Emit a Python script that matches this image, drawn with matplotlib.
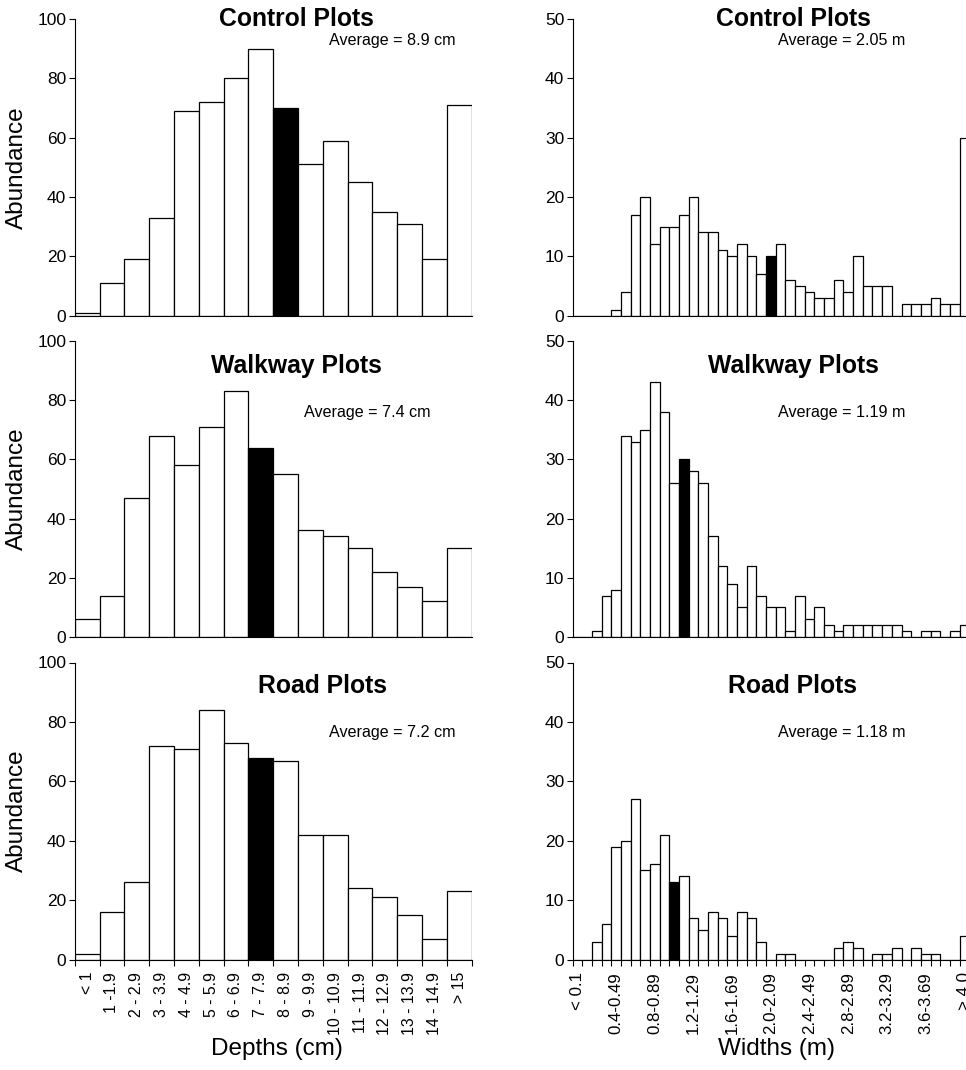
import matplotlib
matplotlib.use("Agg")
import matplotlib.pyplot as plt

plt.rcParams['font.family'] = ['Liberation Sans', 'DejaVu Sans']

# ---- data ----
depth_labels = ["< 1", "1 -1.9", "2 - 2.9", "3 - 3.9", "4 - 4.9", "5 - 5.9", "6 - 6.9",
                "7 - 7.9", "8 - 8.9", "9 - 9.9", "10 - 10.9", "11 - 11.9", "12 - 12.9",
                "13 - 13.9", "14 - 14.9", "> 15"]
ctrl_depth = [1, 11, 19, 33, 69, 72, 80, 90, 70, 51, 59, 45, 35, 31, 19, 71]
walk_depth = [6, 14, 47, 68, 58, 71, 83, 64, 55, 36, 34, 30, 22, 17, 12, 30]
road_depth = [2, 16, 26, 72, 71, 84, 73, 68, 67, 42, 42, 24, 21, 15, 7, 23]

width_labels = ["< 0.1", "0.4-0.49", "0.8-0.89", "1.2-1.29", "1.6-1.69", "2.0-2.09",
                "2.4-2.49", "2.8-2.89", "3.2-3.29", "3.6-3.69", "> 4.0"]
ctrl_width = [0, 0, 0, 0, 1, 4, 17, 20, 12, 15, 15, 17, 20, 14,
              14, 11, 10, 12, 10, 7, 10, 12, 6, 5,
              4, 3, 3, 6, 4, 10, 5, 5, 5, 0,
              2, 2, 2, 3, 2, 2, 30]
walk_width = [0, 0, 1, 7, 8, 34, 33, 35, 43, 38,
              26, 30, 28, 26, 17, 12, 9, 5, 12, 7,
              5, 5, 1, 7, 3, 5, 2, 1, 2, 2,
              2, 2, 2, 2, 1, 0, 1, 1, 0, 1, 2]
road_width = [0, 0, 3, 6, 19, 20, 27, 15, 16, 21,
              13, 14, 7, 5, 8, 7, 4, 8, 7, 3,
              0, 1, 1, 0, 0, 0, 0, 2, 3, 2,
              0, 1, 1, 2, 0, 2, 1, 1, 0, 0, 4]

titles = ["Control Plots", "Walkway Plots", "Road Plots"]
depth_avg = ["Average = 8.9 cm", "Average = 7.4 cm", "Average = 7.2 cm"]
width_avg = ["Average = 2.05 m", "Average = 1.19 m", "Average = 1.18 m"]
depth_mean_bin = [8, 7, 7]
width_mean_bin = [20, 11, 10]

W, H = 966, 1070
fig = plt.figure(figsize=(W / 100, H / 100), dpi=100)

# panel rows (pixel top / bottom of the axes)
rows = [(19, 315.5), (341, 637), (662.5, 959.5)]
left_x = (74.7, 471.7)
right_x = (572.7, 969.2)

# title / average text positions in pixels
title_y = [18.5, 366, 686]
avg_y = [40, 412, 732]


def px_axes(x0, x1, top, bot):
    return fig.add_axes([x0 / W, 1 - bot / H, (x1 - x0) / W, (bot - top) / H])


def draw(ax, vals, mean_bin, ymax, ystep, bottom_row):
    n = len(vals)
    cols = ['black' if i == mean_bin else 'white' for i in range(n)]
    ax.bar(range(n), vals, width=1.0, color=cols, edgecolor='black', linewidth=0.9)
    ax.set_xlim(-0.5, n - 0.5)
    ax.set_ylim(0, ymax)
    ax.set_yticks(range(0, ymax + 1, ystep))
    for s in ['top', 'right']:
        ax.spines[s].set_visible(False)
    for s in ['left', 'bottom']:
        ax.spines[s].set_linewidth(0.8)
    ax.tick_params(axis='y', length=4, width=0.8, labelsize=12.5, pad=2)
    if bottom_row:
        ax.set_xticks([i - 0.5 for i in range(n + 1)], minor=True)
        ax.tick_params(axis='x', which='minor', length=4, width=0.8)
        ax.tick_params(axis='x', which='major', length=0, pad=9)
    else:
        ax.set_xticks([])


for r in range(3):
    top, bot = rows[r]
    last = r == 2

    axl = px_axes(left_x[0], left_x[1], top, bot)
    draw(axl, [ctrl_depth, walk_depth, road_depth][r], depth_mean_bin[r], 100, 20, last)
    axl.set_ylabel("Abundance", fontsize=17.5)
    axl.yaxis.set_label_coords(-0.117, 0.5)
    if last:
        axl.set_xticks(range(len(depth_labels)))
        axl.set_xticklabels(depth_labels, rotation=90, va='top', ha='center', fontsize=11.4)
        axl.set_xlabel("Depths (cm)", fontsize=17.5)
        axl.xaxis.set_label_coords(0.51, -0.264)

    axr = px_axes(right_x[0], right_x[1], top, bot)
    draw(axr, [ctrl_width, walk_width, road_width][r], width_mean_bin[r], 50, 10, last)
    if last:
        axr.set_xticks(range(0, 41, 4))
        axr.set_xticklabels(width_labels, rotation=90, va='top', ha='center', fontsize=12.2)
        axr.set_xlabel("Widths (m)", fontsize=17.5)
        axr.xaxis.set_label_coords((776 - right_x[0]) / (right_x[1] - right_x[0]), -0.264)

    tx_l = 296.7 if r < 2 else 323
    fig.text(tx_l / W, 1 - title_y[r] / H, titles[r], fontsize=17.8, fontweight='bold',
             ha='center', va='center')
    fig.text(793 / W, 1 - title_y[r] / H, titles[r], fontsize=17.8, fontweight='bold',
             ha='center', va='center')
    ax_l = 392 if r != 1 else 367
    fig.text(ax_l / W, 1 - avg_y[r] / H, depth_avg[r], fontsize=11.6, ha='center', va='center')
    fig.text(842 / W, 1 - avg_y[r] / H, width_avg[r], fontsize=11.6, ha='center', va='center')

fig.savefig("out.png", dpi=100)
